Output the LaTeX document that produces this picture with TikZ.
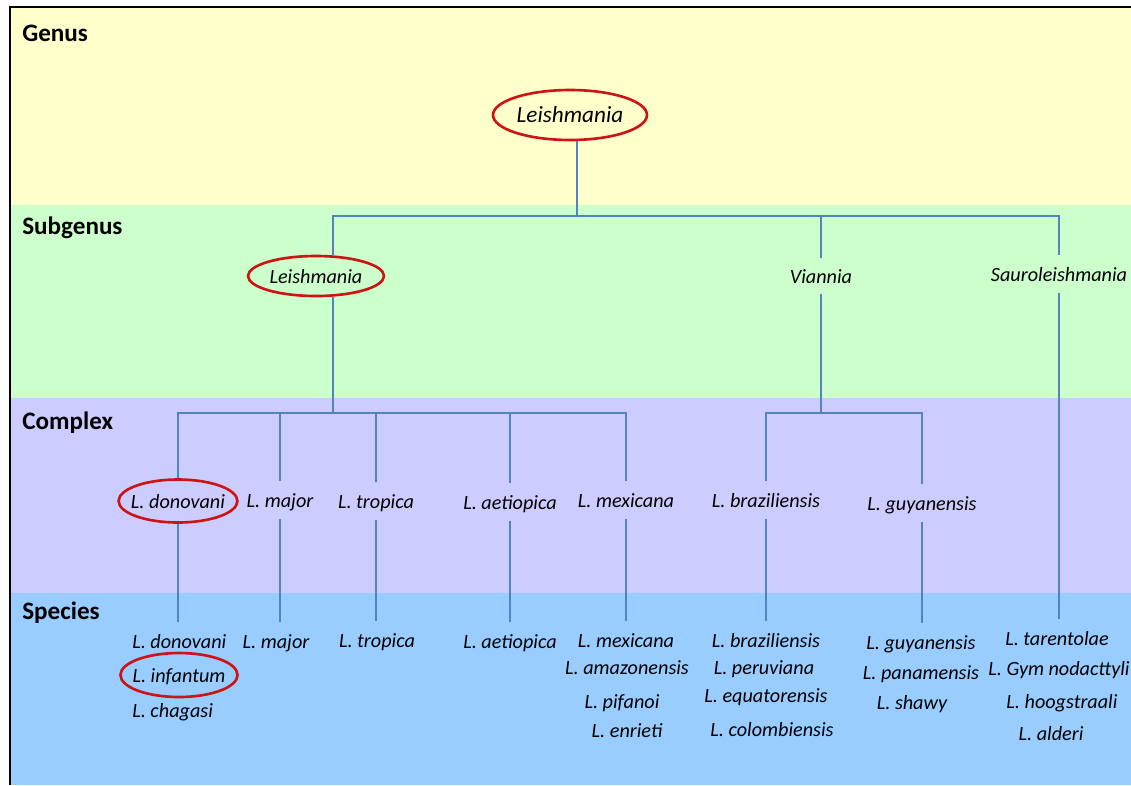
\documentclass[tikz,border=0pt]{standalone}
\usepackage{fontspec}
\setmainfont{Carlito}
\usetikzlibrary{shapes.geometric}
\definecolor{genusbg}{RGB}{255,255,204}
\definecolor{subgenbg}{RGB}{204,255,204}
\definecolor{complexbg}{RGB}{204,204,255}
\definecolor{speciesbg}{RGB}{153,204,255}
\definecolor{linkblue}{RGB}{84,130,190}
\definecolor{ringred}{RGB}{204,20,20}
\tikzset{taxon/.style={font=\fontsize{11.5}{14}\selectfont\itshape, inner sep=0pt,
  minimum height=0.76cm, text height=10pt, text depth=1pt},
  rankhead/.style={font=\fontsize{14.3}{16}\selectfont\bfseries, anchor=west, inner sep=0pt},
  ring/.style={ellipse, draw=ringred, line width=1.5pt, inner xsep=-1mm, inner ysep=0pt},
  link/.style={draw=linkblue, line width=0.8pt}}

\begin{document}
\begin{tikzpicture}[x=0.02cm, y=-0.02cm]
\useasboundingbox (0,0) rectangle (1131,785);
% rank bands
\fill[genusbg] (10,7) rectangle (1131,205);
\fill[subgenbg] (10,205) rectangle (1131,398);
\fill[complexbg] (10,398) rectangle (1131,593);
\fill[speciesbg] (10,593) rectangle (1131,785);
\draw[line width=1.1pt] (10,785) -- (10,7) -- (1131,7);

\node[rankhead] (hGen) at (22,33) {Genus};
\node[rankhead] (hSub) at (22,228) {Subgenus};
\node[rankhead] (hCpx) at (22,423) {Complex};
\node[rankhead] (hSpe) at (22,613) {Species};

% genus and subgenera
\node[taxon, ring, minimum width=3.08cm, minimum height=1.0cm,
  font=\fontsize{13.2}{16}\selectfont\itshape] (gen) at (570,115) {Leishmania};
\node[taxon, ring, minimum width=2.72cm, minimum height=0.8cm] (sgLei) at (316,276) {Leishmania};
\node[taxon, minimum height=0.7cm] (sgVia) at (821,276) {Viannia};
\node[taxon, minimum height=0.74cm] (sgSau) at (1059,274) {Sauroleishmania};

% complexes
\node[taxon, ring, minimum width=2.28cm, minimum height=0.86cm] (cxDon) at (178,501) {L. donovani};
\node[taxon] (cxMaj) at (280,500) {L. major};
\node[taxon] (cxTro) at (376,501) {L. tropica};
\node[taxon] (cxAet) at (510,502) {L. aetiopica};
\node[taxon] (cxMex) at (626,500) {L. mexicana};
\node[taxon] (cxBra) at (766,500) {L. braziliensis};
\node[taxon] (cxGuy) at (922,503) {L. guyanensis};

% species
\node[taxon, anchor=west] (spDon) at (132,641) {L. donovani};
\node[taxon, ring, minimum width=2.22cm, minimum height=0.88cm] (spInf) at (179,675) {L. infantum};
\node[taxon, anchor=west] (spCha) at (132,710) {L. chagasi};
\node[taxon] (spMaj) at (276,641) {L. major};
\node[taxon] (spTro) at (377,640) {L. tropica};
\node[taxon] (spAet) at (510,641) {L. aetiopica};
\node[taxon] (spMex) at (626,640) {L. mexicana};
\node[taxon] (spAma) at (627,667) {L. amazonensis};
\node[taxon] (spPif) at (622,701) {L. pifanoi};
\node[taxon] (spEnr) at (627,730) {L. enrieti};
\node[taxon] (spBra) at (766,640) {L. braziliensis};
\node[taxon] (spPer) at (764,667) {L. peruviana};
\node[taxon] (spEqu) at (766,695) {L. equatorensis};
\node[taxon] (spCol) at (772,729) {L. colombiensis};
\node[taxon] (spGuy) at (921,642) {L. guyanensis};
\node[taxon] (spPan) at (921,672) {L. panamensis};
\node[taxon] (spSha) at (912,702) {L. shawy};
\node[taxon] (spTar) at (1057,638) {L. tarentolae};
\node[taxon, anchor=east] (spGym) at (1130,668) {L. Gym nodacttyli};
\node[taxon] (spHoo) at (1062,701) {L. hoogstraali};
\node[taxon] (spAld) at (1051,733) {L. alderi};

% connectors
\coordinate (bSub) at (577,216);
\coordinate (bCpx) at (333,413);
\coordinate (bVia) at (821,413);
\draw[link] (gen.south -| bSub) -- (bSub);
\draw[link] (bSub) -| (sgLei.north -| bCpx);
\draw[link] (bSub) -| (sgVia.north);
\draw[link] (bSub) -| (sgSau.north);
\draw[link] (sgLei.south -| bCpx) -- (bCpx);
\draw[link] (sgVia.south) -- (bVia);
\foreach \cx in {cxDon,cxMaj,cxTro,cxAet,cxMex}
  \draw[link] (bCpx) -| (\cx.north);
\foreach \cx in {cxBra,cxGuy}
  \draw[link] (bVia) -| (\cx.north);
\draw[link] (cxDon.south) -- (cxDon.south |- spDon.north);
\draw[link] (cxMaj.south) -- (cxMaj.south |- spMaj.north);
\draw[link] (cxTro.south) -- (cxTro.south |- spTro.north);
\draw[link] (cxAet.south) -- (cxAet.south |- spAet.north);
\draw[link] (cxMex.south) -- (cxMex.south |- spMex.north);
\draw[link] (cxBra.south) -- (cxBra.south |- spBra.north);
\draw[link] (cxGuy.south) -- (cxGuy.south |- spGuy.north);
\draw[link] (sgSau.south) -- (sgSau.south |- spTar.north);
\end{tikzpicture}
\end{document}
